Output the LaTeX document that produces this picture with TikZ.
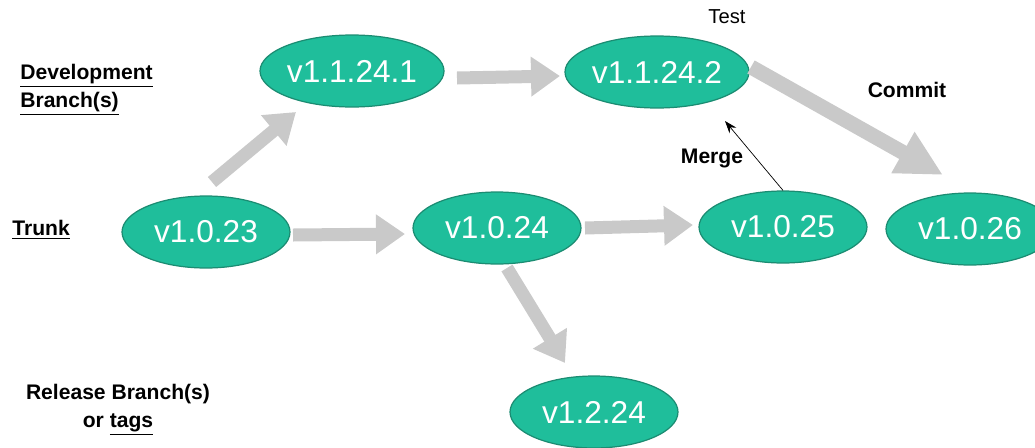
\documentclass[tikz,border=0pt]{standalone}
\usepackage{fontspec}
\setmainfont{Liberation Sans}
\usetikzlibrary{arrows.meta,shapes.geometric}
\definecolor{verfill}{HTML}{1FBE9B}
\definecolor{verline}{HTML}{1B8C72}
\definecolor{fatgray}{HTML}{C9C9C9}

\begin{document}
\begin{tikzpicture}[x=0.02cm, y=-0.02cm,
    ver/.style={ellipse, draw=verline, fill=verfill, line width=0.7pt,
      minimum width=3.36cm, minimum height=1.44cm, inner sep=0pt,
      text=white, font=\fontsize{18}{20}\selectfont},
    fat/.style={draw=fatgray, line width=0.26cm,
      -{Triangle[width=0.76cm, length=0.58cm]}},
    fatter/.style={draw=fatgray, line width=0.3cm,
      -{Triangle[width=0.88cm, length=0.92cm]}},
    lbl/.style={font=\fontsize{12}{16}\selectfont\bfseries, inner sep=0pt}]
      \useasboundingbox (0,0) rectangle (1035,447);

      % versions
      \node[ver] (d1) at (352,71) {v1.1.24.1};
      \node[ver] (d2) at (657,72) {v1.1.24.2};
      \node[ver] (t23) at (206,232) {v1.0.23};
      \node[ver] (t24) at (497,228) {v1.0.24};
      \node[ver] (t25) at (783,227) {v1.0.25};
      \node[ver] (t26) at (970,229) {v1.0.26};
      \node[ver] (r24) at (594,412) {v1.2.24};

      % left labels
      \node[lbl, anchor=west, align=left] (dev) at (20,90)
        {\underline{Development}\\\underline{Branch(s)}};
      \node[lbl, anchor=west] (trunk) at (12,230) {\underline{Trunk}};
      \node[lbl, align=center] (rel) at (118,410)
        {Release Branch(s)\\or \underline{tags}};

      % other labels
      \node[inner sep=0pt, font=\fontsize{11.5}{14}\selectfont] (test) at (727,17) {Test};
      \node[lbl] (commit) at (907,90) {Commit};
      \node[lbl] (merge) at (712,158) {Merge};

      % block arrows
      \draw[fat] ([shift={(6,-50)}]t23.center) -- ([shift={(-56,41)}]d1.center);
      \draw[fat] ([shift={(105,7)}]d1.center) -- ([shift={(-97,4)}]d2.center);
      \draw[fat] ([shift={(87,3)}]t23.center) -- ([shift={(-92,6)}]t24.center);
      \draw[fat] ([shift={(88,0)}]t24.center) -- ([shift={(-90,-2)}]t25.center);
      \draw[fat] ([shift={(10,40)}]t24.center) -- ([shift={(-29,-49)}]r24.center);
      \draw[fatter] ([shift={(94,-5)}]d2.center) -- ([shift={(-27,-54)}]t26.center);

      % merge
      \draw[thin, -{Stealth[length=7pt, width=5pt]}] (t25.north) -- ([shift={(68,49)}]d2.center);
\end{tikzpicture}
\end{document}
